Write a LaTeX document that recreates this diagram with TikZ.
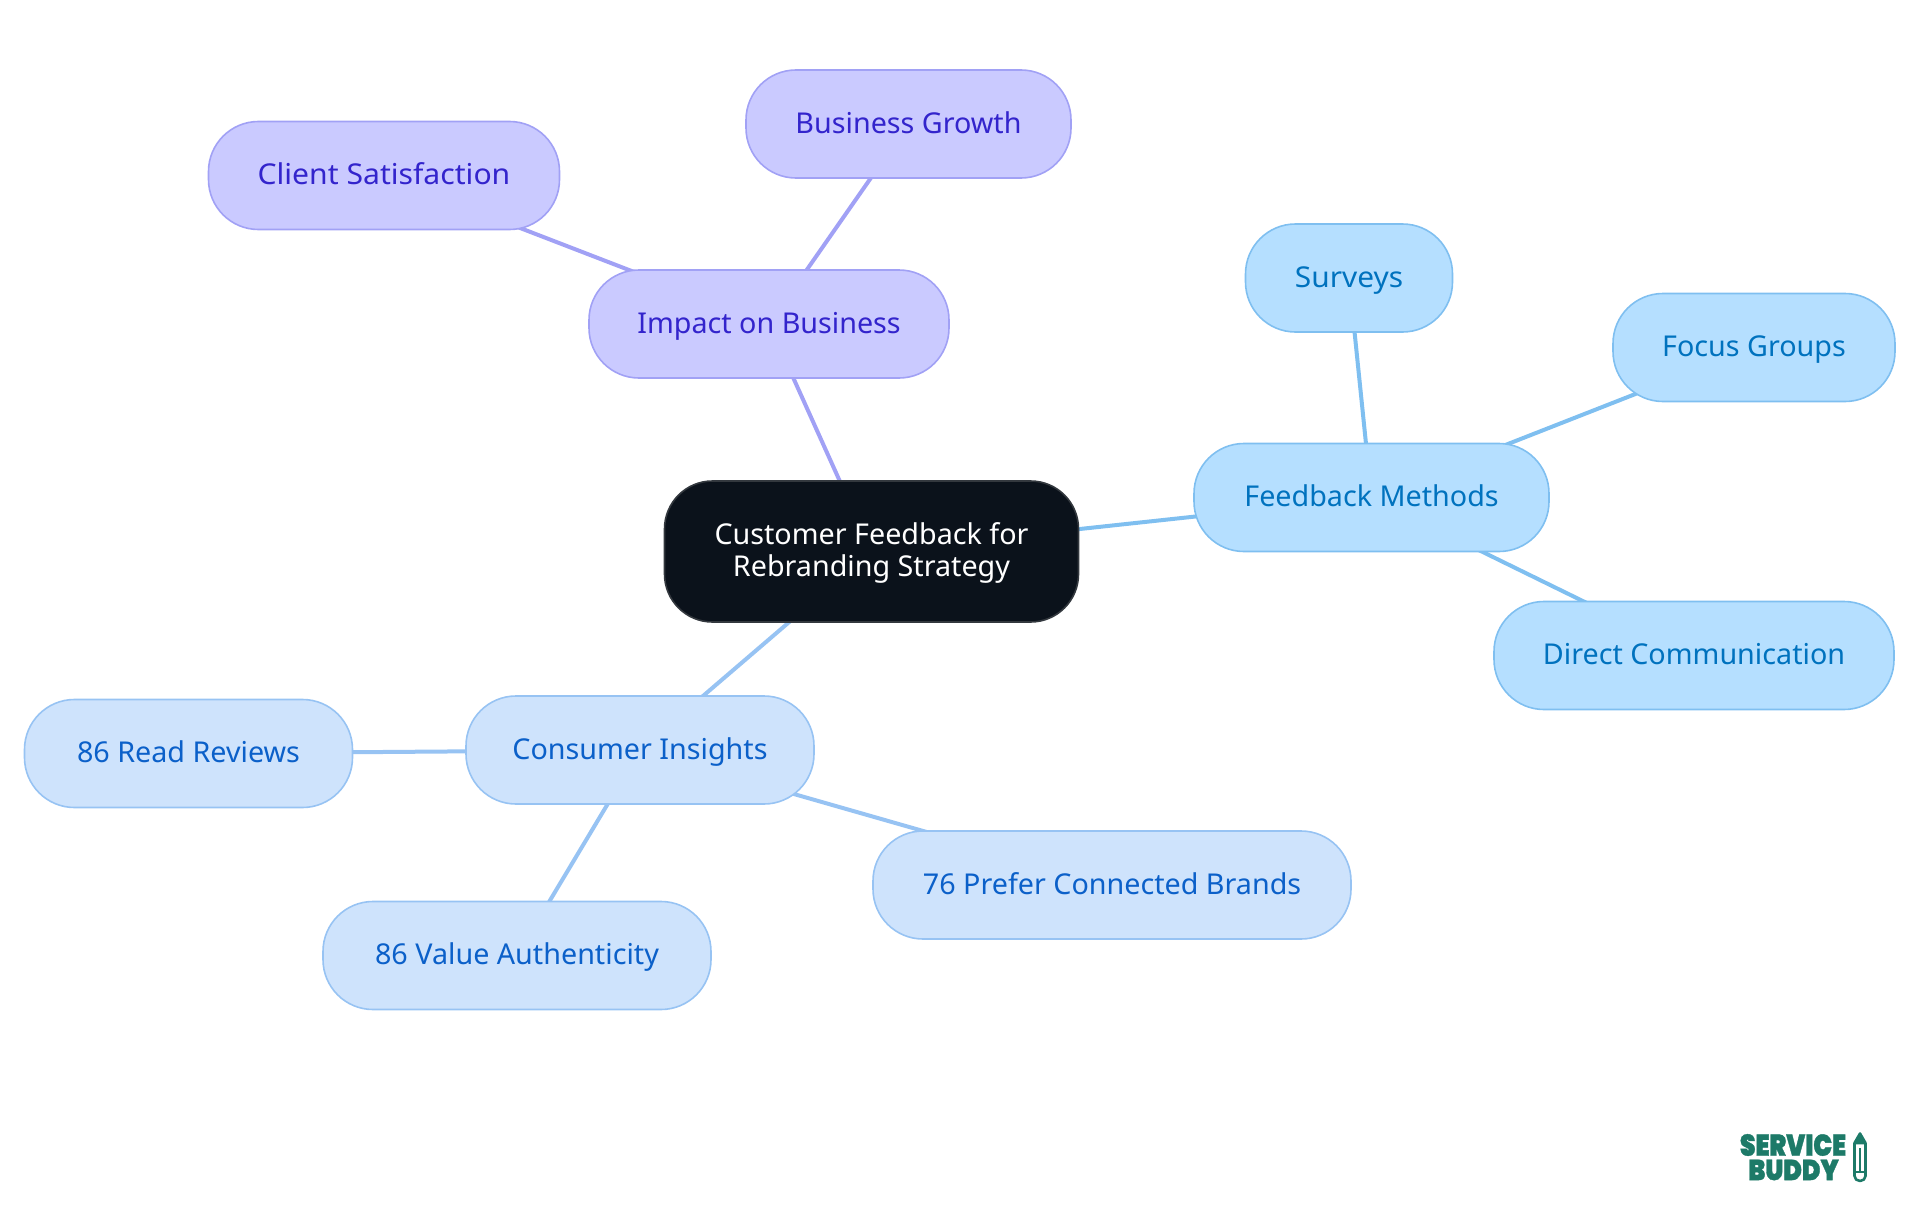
\documentclass[tikz,border=0pt]{standalone}
\usepackage{fontspec}
\setmainfont{Noto Sans}
\newfontfamily\logofont[FakeBold=1.2]{Poppins Black}
\usetikzlibrary{backgrounds}
\definecolor{rootfill}{HTML}{0B121B}
\definecolor{rootline}{HTML}{33383E}
\definecolor{fbfill}{HTML}{B5DFFF}
\definecolor{fbline}{HTML}{7FBFF0}
\definecolor{fbtext}{HTML}{0072BE}
\definecolor{cifill}{HTML}{CEE3FC}
\definecolor{ciline}{HTML}{97C3F3}
\definecolor{citext}{HTML}{0B60C9}
\definecolor{imfill}{HTML}{CACAFF}
\definecolor{imline}{HTML}{A1A1F5}
\definecolor{imtext}{HTML}{3324CC}
\definecolor{logogreen}{HTML}{1D7A68}
\tikzset{
  x=1pt,y=-1pt,
  mm/.style={rectangle,rounded corners=50pt,line width=1.6pt,inner sep=0pt,align=center,
    text height=21pt,text depth=0pt,font=\fontsize{28.7}{32}\selectfont},
  rootn/.style={mm,draw=rootline,fill=rootfill,text=white,text height=21pt,rounded corners=48pt},
  fbn/.style={mm,draw=fbline,fill=fbfill,text=fbtext},
  cin/.style={mm,draw=ciline,fill=cifill,text=citext},
  imn/.style={mm,draw=imline,fill=imfill,text=imtext},
  fbe/.style={line width=4pt,draw=fbline},
  cie/.style={line width=4pt,draw=ciline},
  ime/.style={line width=4pt,draw=imline},
  logotext/.style={inner sep=0pt,text=logogreen,font=\logofont\fontsize{25}{25}\selectfont},
  pencil/.style={draw=logogreen,line width=2.6pt,line join=round}
}
\newcommand{\nd}[6]{\node[#1,minimum width=#4pt,minimum height=#5pt] (#2) at (#3) {\raisebox{1.5pt}{#6}};}
\begin{document}
\begin{tikzpicture}
\useasboundingbox (0,0) rectangle (1920,1215);
\nd{rootn}{root}{871.5,551.5}{414}{141}{\begin{tabular}{@{}c@{}}Customer Feedback for\\Rebranding Strategy\end{tabular}}
\nd{imn}{impact}{769,324}{360}{108}{Impact on Business}
\nd{imn}{growth}{908.5,124}{325}{108}{Business Growth}
\nd{imn}{client}{384,175.5}{351}{108}{\scalebox{1.05}[1]{Client Satisfaction}}
\nd{fbn}{feedback}{1371.5,497.5}{355}{108}{Feedback Methods}
\nd{fbn}{surveys}{1349,278}{207}{108}{\scalebox{1.04}[1]{Surveys}}
\nd{fbn}{focus}{1754,347.5}{282}{108}{Focus Groups}
\nd{fbn}{direct}{1694,655.5}{400}{108}{Direct Communication}
\nd{cin}{consumer}{640,750}{348}{108}{Consumer Insights}
\nd{cin}{reads}{188.5,753.5}{328}{108}{86 Read Reviews}
\nd{cin}{prefer}{1112,885}{478}{108}{76 Prefer Connected Brands}
\nd{cin}{value}{517,955.5}{388}{108}{86 Value Authenticity}
\begin{scope}[on background layer]
  \draw[ime] (root.center) -- (impact.center);
  \draw[ime] (impact.center) -- (growth.center);
  \draw[ime] (impact.center) -- (client.center);
  \draw[fbe] (root.center) -- (feedback.center);
  \draw[fbe] (feedback.center) -- (surveys.center);
  \draw[fbe] (feedback.center) -- (focus.center);
  \draw[fbe] (feedback.center) -- (direct.center);
  \draw[cie] (root.center) -- (consumer.center);
  \draw[cie] (consumer.center) -- (reads.center);
  \draw[cie] (consumer.center) -- (prefer.center);
  \draw[cie] (consumer.center) -- (value.center);
\end{scope}
\node[logotext] (service) at (1793,1145) {\scalebox{1}[1.2]{SERVICE}};
\node[logotext] (buddy) at (1793.5,1170) {\scalebox{1}[1.15]{BUDDY}};
\draw[pencil,fill=logogreen] (1860,1133.5) -- (1865.5,1143) -- (1854.5,1143) -- cycle;
\draw[pencil] (1854.5,1143) -- (1854.5,1176) arc[start angle=180,end angle=360,x radius=5.5,y radius=-5] -- (1865.5,1143);
\draw[pencil,line width=1.8pt] (1860,1148) -- (1860,1171);
\draw[pencil,line width=1.8pt] (1855,1172) -- (1865,1172);
\end{tikzpicture}
\end{document}
